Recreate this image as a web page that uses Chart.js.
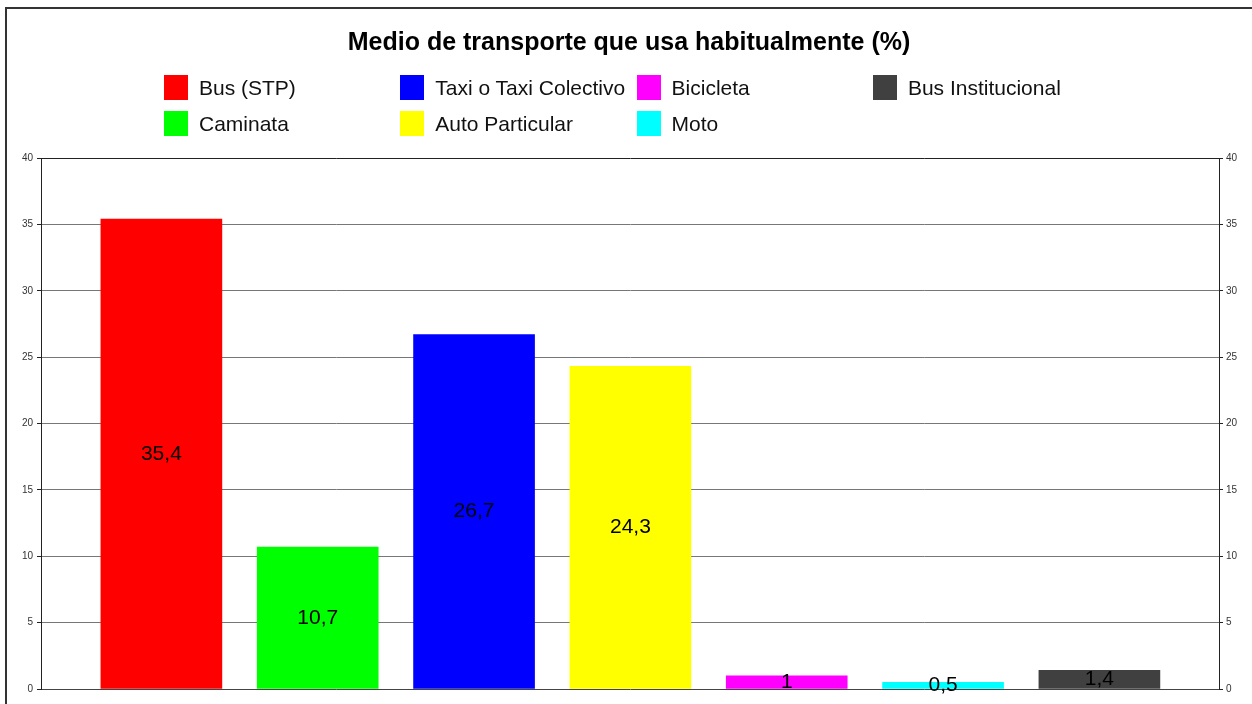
<!DOCTYPE html>
<html lang="es">
<head>
    <meta charset="UTF-8">
    <title>Medio de transporte que usa habitualmente (%)</title>
    <script src="https://cdn.jsdelivr.net/npm/chart.js"></script>
    <style>
        html, body {
            margin: 0;
            padding: 0;
            background: #fff;
            overflow: hidden;
        }
        #frame {
            position: absolute;
            left: 5px;
            top: 7px;
            width: 2000px;
            height: 2000px;
            border-left: 2px solid #333;
            border-top: 2px solid #333;
        }
        #wrap {
            position: absolute;
            left: 0;
            top: 0;
            width: 1252px;
            height: 704px;
        }
        #legend {
            position: absolute;
            left: 0;
            top: 0;
            font-family: Arial, 'Liberation Sans', sans-serif;
            font-size: 21px;
            color: #111;
        }
        .item {
            position: absolute;
            white-space: nowrap;
            height: 25px;
            line-height: 25px;
        }
        .item span.box {
            position: absolute;
            left: 0;
            top: 0;
            width: 24px;
            height: 25px;
        }
        .item span.txt {
            position: absolute;
            left: 35px;
            top: 0;
        }
    </style>
</head>
<body>
    <div id="frame"></div>
    <div id="wrap"><canvas id="myChart"></canvas></div>
    <div id="legend"></div>

    <script>
        // datos
        const categorias = ['Bus (STP)', 'Caminata', 'Taxi o Taxi Colectivo', 'Auto Particular', 'Bicicleta', 'Moto', 'Bus Institucional'];
        const valores = [35.4, 10.7, 26.7, 24.3, 1, 0.5, 1.4];
        const colores = ['#ff0000', '#00ff00', '#0000ff', '#ffff00', '#ff00ff', '#00ffff', '#404040'];
        const ticksY = [0, 5, 10, 15, 20, 25, 30, 35, 40];

        // leyenda (por columnas, 2 filas)
        const legend = document.getElementById('legend');
        categorias.forEach((c, i) => {
            const col = Math.floor(i / 2), row = i % 2;
            const d = document.createElement('div');
            d.className = 'item';
            d.style.left = (164 + col * 236.3) + 'px';
            d.style.top = (75 + row * 36) + 'px';
            d.innerHTML = '<span class="box" style="background:' + colores[i] + '"></span><span class="txt">' + c + '</span>';
            legend.appendChild(d);
        });

        // etiquetas de valor dentro de las barras
        const etiquetas = {
            id: 'etiquetas',
            afterDatasetsDraw(chart) {
                const ctx = chart.ctx;
                const meta = chart.getDatasetMeta(0);
                ctx.save();
                ctx.font = '21px Arial, "Liberation Sans", sans-serif';
                ctx.fillStyle = '#000';
                ctx.textAlign = 'center';
                ctx.textBaseline = 'middle';
                meta.data.forEach((bar, i) => {
                    const p = bar.getProps(['x', 'y', 'base'], true);
                    ctx.fillText(String(valores[i]).replace('.', ','), p.x, (p.y + p.base) / 2);
                });
                ctx.restore();
            }
        };

        const tickFont = { family: 'Arial, "Liberation Sans", sans-serif', size: 10 };

        const ctx = document.getElementById('myChart').getContext('2d');
        const myChart = new Chart(ctx, {
            type: 'bar',
            data: {
                datasets: [{
                    data: valores.map((v, i) => ({ x: i + 1, y: v })),
                    backgroundColor: colores,
                    borderWidth: 0,
                    barThickness: 121
                }]
            },
            plugins: [etiquetas],
            options: {
                responsive: true,
                maintainAspectRatio: false,
                animation: false,
                layout: { padding: { left: 6, right: 0, top: 0, bottom: 15 } },
                plugins: {
                    legend: { display: false },
                    tooltip: { enabled: false },
                    title: {
                        display: true,
                        text: 'Medio de transporte que usa habitualmente (%)',
                        color: '#000',
                        font: { family: 'Arial, "Liberation Sans", sans-serif', size: 25, weight: 'bold' },
                        padding: { top: 28, bottom: 100 }
                    }
                },
                scales: {
                    x: {
                        type: 'linear',
                        display: false,
                        offset: false,
                        min: 0.23,
                        max: 7.765
                    },
                    y: {
                        position: 'left',
                        min: 0,
                        max: 40,
                        afterBuildTicks: s => { s.ticks = ticksY.map(v => ({ value: v })); },
                        afterFit: s => { s.width = 35; },
                        ticks: { font: tickFont, color: '#333', padding: 4 },
                        grid: {
                            tickLength: 4,
                            lineWidth: 1,
                            color: c => (c.tick && c.tick.value === 40) ? '#222' : (c.tick && c.tick.value === 0 ? '#444' : '#777'),
                            tickColor: '#222'
                        },
                        border: { color: '#222', width: 1 }
                    },
                    y2: {
                        position: 'right',
                        min: 0,
                        max: 40,
                        afterBuildTicks: s => { s.ticks = ticksY.map(v => ({ value: v })); },
                        afterFit: s => { s.width = 33; },
                        ticks: { font: tickFont, color: '#333', padding: 3 },
                        grid: {
                            drawOnChartArea: false,
                            tickLength: 4,
                            color: '#222'
                        },
                        border: { color: '#222', width: 1 }
                    }
                }
            }
        });
    </script>
</body>
</html>
